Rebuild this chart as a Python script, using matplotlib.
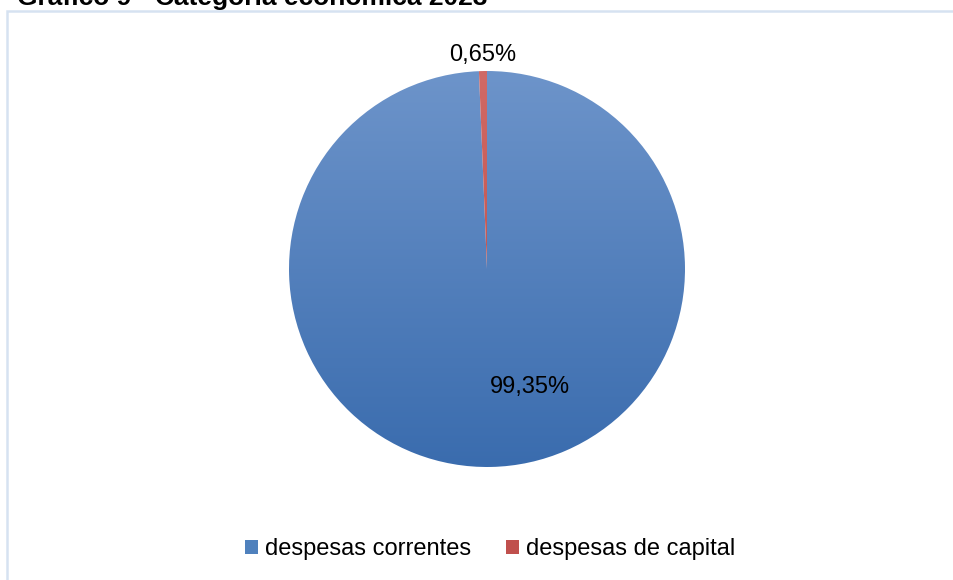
import numpy as np
import matplotlib.pyplot as plt
from matplotlib.patches import Patch, Rectangle
from matplotlib.colors import LinearSegmentedColormap

categories = ["despesas correntes", "despesas de capital"]
shares = [99.35, 0.65]
title = "Gráfico 9 - Categoria econômica 2023"

plt.rcParams['font.family'] = ['Liberation Sans', 'DejaVu Sans']

W, H = 954, 580
fig = plt.figure(figsize=(W / 100, H / 100), dpi=100)

# light blue frame, running off the right and bottom edges
fig.patches.append(Rectangle((7 / W, -0.05), 1.0, 1 - 11 / H + 0.05,
                             transform=fig.transFigure, fill=False,
                             edgecolor="#d6e2f1", linewidth=1.8))
fig.text(17 / W, 1 - 5 / H, title, fontsize=19, fontweight="bold",
         ha="left", va="baseline")

cx, cy, r = 487, 269, 198
ax = fig.add_axes([(cx - r) / W, (H - cy - r) / H, 2 * r / W, 2 * r / H])
wedges, _ = ax.pie(shares, startangle=90, counterclock=False, radius=1,
                   colors=["#4f81bd", "#c0504d"])
ax.set_xlim(-1, 1)
ax.set_ylim(-1, 1)
ax.axis("off")

# vertical gradient fill like the original
grads = [("#6d94ca", "#3a6cae"), ("#d06a66", "#b8433f")]
for w, (top, bot) in zip(wedges, grads):
    cmap = LinearSegmentedColormap.from_list("g", [bot, top])
    img = ax.imshow(np.linspace(0, 1, 256).reshape(-1, 1), cmap=cmap,
                    extent=[-1, 1, -1, 1], origin="lower", aspect="auto",
                    zorder=w.get_zorder())
    img.set_clip_path(w)
    w.set_facecolor("none")
    w.set_edgecolor("none")

# labels
theta_red = np.deg2rad(90 + shares[1] / 100 * 360 / 2)
ax.text(1.08 * np.cos(theta_red), 1.08 * np.sin(theta_red),
        f"{shares[1]:.2f}%".replace(".", ","), fontsize=17,
        ha="center", va="center", zorder=5)
ax.text(0.217, -0.596, f"{shares[0]:.2f}%".replace(".", ","), fontsize=17,
        ha="center", va="center", zorder=5)

handles = [Patch(facecolor=c) for c in ["#4f81bd", "#c0504d"]]
fig.legend(handles, categories, loc="center", bbox_to_anchor=(490 / W, 1 - 549 / H),
           ncol=2, frameon=False, fontsize=17, handlelength=0.55,
           handleheight=0.55, handletextpad=0.3, columnspacing=1.45)

fig.savefig("out.png", dpi=100)
